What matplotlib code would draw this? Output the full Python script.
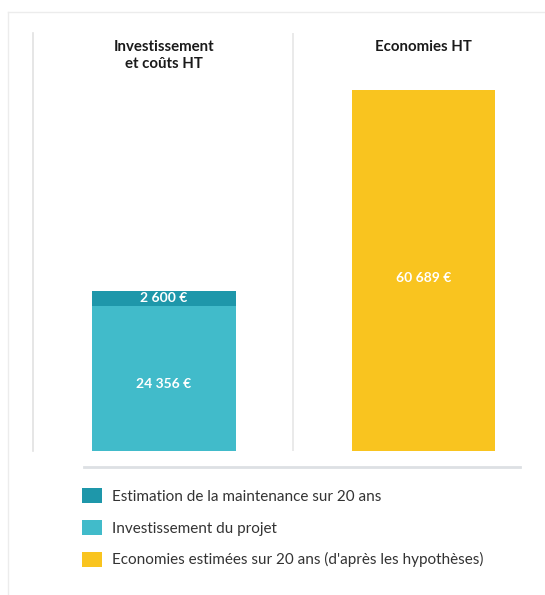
import matplotlib
matplotlib.use("Agg")
import matplotlib.pyplot as plt
from matplotlib.patches import Patch
from matplotlib.lines import Line2D

# ---- data ----
groups = ["Investissement\net coûts HT", "Economies HT"]
investissement = [24356, 0]
maintenance = [2600, 0]
economies = [0, 60689]
series_labels = ["Estimation de la maintenance sur 20 ans",
                 "Investissement du projet",
                 "Economies estimées sur 20 ans (d'après les hypothèses)"]
colors = ["#1e97aa", "#41bbca", "#f9c41f"]

def fmt(v):
    return f"{v:,}".replace(",", " ") + " €"

plt.rcParams['font.family'] = ['Lato', 'DejaVu Sans']

W, H = 545, 595
fig = plt.figure(figsize=(W / 100, H / 100), dpi=100)
fig.patch.set_facecolor("white")

# axes in pixel geometry
ax_left, ax_right, ax_top, ax_bot = 33, 545, 33, 451
ax = fig.add_axes([ax_left / W, 1 - ax_bot / H, (ax_right - ax_left) / W, (ax_bot - ax_top) / H])
scale = 361 / 60689.0
ax.set_ylim(0, (ax_bot - ax_top) / scale)
unit = 259.5
ax.set_xlim(-(164 - ax_left) / unit, 1 + (ax_right - 423.5) / unit)
bw = 144 / unit

x = [0, 1]
ax.bar(x[0], investissement[0], width=bw, color=colors[1])
ax.bar(x[0], maintenance[0], bottom=investissement[0], width=bw, color=colors[0])
ax.bar(x[1], economies[1], width=bw, color=colors[2])

# value labels
ax.text(x[0], investissement[0] + maintenance[0] / 2, fmt(maintenance[0]), ha="center", va="center",
        color="white", fontsize=10, fontweight="bold")
ax.text(x[0], investissement[0] / 2 - 900, fmt(investissement[0]), ha="center", va="center",
        color="white", fontsize=10, fontweight="bold")
ax.text(x[1], economies[1] / 2 - 1200, fmt(economies[1]), ha="center", va="center",
        color="white", fontsize=10, fontweight="bold")

# group titles
ax.text(x[0], 1 - 7 / (ax_bot - ax_top), groups[0], transform=ax.get_xaxis_transform(),
        ha="center", va="top", fontsize=10.8, fontweight="bold", color="#1a1a1a", linespacing=1.3)
ax.text(x[1], 1 - 7 / (ax_bot - ax_top), groups[1], transform=ax.get_xaxis_transform(),
        ha="center", va="top", fontsize=10.8, fontweight="bold", color="#1a1a1a")

ax.axvline((293 - 164) / unit, color="#e6e6e6", lw=1.2)
for s in ["top", "right", "bottom"]:
    ax.spines[s].set_visible(False)
ax.spines["left"].set_color("#e2e2e2")
ax.spines["left"].set_linewidth(1.2)
ax.set_xticks([])
ax.set_yticks([])
ax.patch.set_alpha(0)

# horizontal separator
fig.add_artist(Line2D([84 / W, 520 / W], [1 - 467 / H, 1 - 467 / H], color="#dde0e4", lw=2.0))
# outer frame
fig.add_artist(Line2D([8 / W, 1], [1 - 12 / H, 1 - 12 / H], color="#ececec", lw=1))
fig.add_artist(Line2D([8 / W, 8 / W], [1 - 12 / H, 0], color="#ececec", lw=1))

handles = [Patch(facecolor=c, edgecolor="none") for c in colors]
fig.legend(handles, series_labels, loc="upper left", bbox_to_anchor=(82 / W, 1 - 488 / H),
           frameon=False, fontsize=11, handlelength=1.3, handleheight=1.15,
           handletextpad=0.65, labelspacing=1.05, borderpad=0, borderaxespad=0,
           labelcolor="#333333")

fig.savefig("out.png", dpi=100, facecolor="white")
